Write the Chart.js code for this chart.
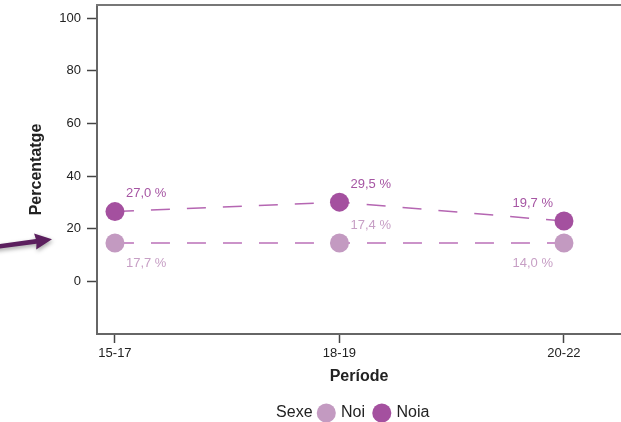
<!DOCTYPE html>
<html>
<head>
<meta charset="utf-8">
<script src="https://cdn.jsdelivr.net/npm/chart.js@4.4.1/dist/chart.umd.min.js"></script>
<style>
  html, body { margin: 0; padding: 0; background: #fff; }
  #wrap { width: 621px; height: 422px; }
</style>
</head>
<body>
<div id="wrap"><canvas id="chart"></canvas></div>
<script>
// dades
const periods = ["15-17", "18-19", "20-22"];
const yTicks = [0, 20, 40, 60, 80, 100];
const noiValues = [14.6, 14.6, 14.6];
const noiaValues = [26.5, 30.1, 22.9];
const noiLabels = ["17,7 %", "17,4 %", "14,0 %"];
const noiaLabels = ["27,0 %", "29,5 %", "19,7 %"];
const arrowValue = 16; // on apunta la fletxa

// on va cada etiqueta respecte al punt
const noiLabelPos = ["se", "ne", "sw"];
const noiaLabelPos = ["ne", "ne", "nw"];

const FONT = "'Liberation Sans', Arial, Helvetica, sans-serif";

// treu el farciment automàtic de les escales
function noPadding(axis) {
  axis.paddingTop = 0;
  axis.paddingBottom = 0;
  axis.paddingLeft = 0;
  axis.paddingRight = 0;
}

const decor = {
  id: "decor",
  afterLayout(chart) {
    // llegenda una mica desplaçada, com a l'original
    const lg = chart.legend;
    lg.left += 64; lg.right += 64;
    lg.top += 9; lg.bottom += 9;
  },
  beforeDatasetsDraw(chart) {
    const { ctx, chartArea } = chart;
    ctx.save();
    ctx.strokeStyle = "#777";
    ctx.lineWidth = 2;
    ctx.beginPath();
    ctx.moveTo(chartArea.left - 1, chartArea.top);
    ctx.lineTo(chartArea.right, chartArea.top);
    ctx.stroke();
    ctx.restore();
  },
  afterDatasetsDraw(chart) {
    const ctx = chart.ctx;
    ctx.save();
    ctx.font = "13px " + FONT;
    ctx.textBaseline = "middle";
    chart.data.datasets.forEach((ds, di) => {
      const meta = chart.getDatasetMeta(di);
      meta.data.forEach((pt, i) => {
        const pos = ds.labelPos[i];
        const dy = pos[0] === "n" ? -18 : 20;
        let x = pt.x;
        if (pos[1] === "e") { ctx.textAlign = "left"; x += 11; }
        else { ctx.textAlign = "right"; x -= 11; }
        ctx.fillStyle = ds.labelColor;
        ctx.fillText(ds.labels[i], x, pt.y + dy);
      });
    });
    ctx.restore();
  },
  afterDraw(chart) {
    const ctx = chart.ctx;
    // "Sexe" davant de la llegenda
    const hb = chart.legend.legendHitBoxes[0];
    if (hb) {
      ctx.save();
      ctx.font = "16px " + FONT;
      ctx.fillStyle = "#222";
      ctx.textAlign = "right";
      ctx.textBaseline = "middle";
      ctx.fillText("Sexe", hb.left - 7, hb.top + hb.height / 2);
      ctx.restore();
    }
    // fletxa de l'esquerra
    const tipY = chart.scales.y.getPixelForValue(arrowValue);
    const tipX = 52;
    ctx.save();
    ctx.translate(tipX, tipY);
    ctx.rotate(Math.atan2(7, -52));
    ctx.shadowColor = "rgba(0,0,0,0.35)";
    ctx.shadowBlur = 4;
    ctx.shadowOffsetX = 1;
    ctx.shadowOffsetY = 2;
    ctx.fillStyle = "#5b1f5e";
    ctx.beginPath();
    ctx.moveTo(0, 0);
    ctx.lineTo(17, -8);
    ctx.lineTo(16, -2.3);
    ctx.lineTo(60, -2.3);
    ctx.lineTo(60, 2.3);
    ctx.lineTo(16, 2.3);
    ctx.lineTo(17, 8);
    ctx.closePath();
    ctx.fill();
    ctx.restore();
  }
};

const ctx = document.getElementById("chart").getContext("2d");

new Chart(ctx, {
  type: "line",
  data: {
    datasets: [
      {
        label: "Noi",
        data: noiValues.map((v, i) => ({ x: i, y: v })),
        labels: noiLabels,
        labelPos: noiLabelPos,
        labelColor: "#c79fc5",
        borderColor: "#bb70b8",
        borderWidth: 1.5,
        borderDash: [19, 17],
        pointBackgroundColor: "#c39ac1",
        pointBorderColor: "#c39ac1",
        pointBorderWidth: 0,
        pointRadius: 9.5,
        fill: false,
      },
      {
        label: "Noia",
        data: noiaValues.map((v, i) => ({ x: i, y: v })),
        labels: noiaLabels,
        labelPos: noiaLabelPos,
        labelColor: "#a655a3",
        borderColor: "#b566b2",
        borderWidth: 1.5,
        borderDash: [19, 17],
        pointBackgroundColor: "#a4509f",
        pointBorderColor: "#a4509f",
        pointBorderWidth: 0,
        pointRadius: 9.5,
        fill: false,
      },
    ],
  },
  options: {
    responsive: true,
    maintainAspectRatio: false,
    animation: false,
    layout: { autoPadding: false, padding: { top: 5, left: 0, right: 0, bottom: 0 } },
    plugins: {
      legend: {
        position: "bottom",
        labels: {
          usePointStyle: true,
          boxWidth: 13.5,
          boxHeight: 13.5,
          padding: 10,
          color: "#222",
          font: { family: FONT, size: 16 },
        },
      },
      tooltip: { enabled: false },
    },
    scales: {
      x: {
        type: "linear",
        min: -0.08,
        max: 2.254,
        afterBuildTicks: (axis) => {
          axis.ticks = periods.map((p, i) => ({ value: i }));
        },
        afterFit: (axis) => { axis.height = 52; noPadding(axis); },
        ticks: {
          callback: (v) => periods[v],
          color: "#222",
          padding: 3,
          maxRotation: 0,
          font: { family: FONT, size: 13 },
        },
        grid: {
          drawOnChartArea: false,
          drawTicks: true,
          tickLength: 9,
          tickColor: "#444",
          tickWidth: 1.5,
        },
        border: { display: true, color: "#666", width: 2 },
        title: {
          display: true,
          text: "Període",
          color: "#222",
          font: { family: FONT, size: 16, weight: "bold" },
          padding: { top: 0, bottom: 0 },
        },
      },
      y: {
        min: -20,
        max: 105,
        afterBuildTicks: (axis) => {
          axis.ticks = yTicks.map((v) => ({ value: v }));
        },
        afterFit: (axis) => { axis.width = 97; noPadding(axis); },
        ticks: {
          color: "#222",
          padding: 6,
          font: { family: FONT, size: 13 },
        },
        grid: {
          drawOnChartArea: false,
          drawTicks: true,
          tickLength: 10,
          tickColor: "#444",
          tickWidth: 1.5,
        },
        border: { display: true, color: "#666", width: 2 },
        title: {
          display: true,
          text: "Percentatge",
          color: "#222",
          font: { family: FONT, size: 16, weight: "bold" },
          padding: { top: 27, bottom: 0 },
        },
      },
    },
  },
  plugins: [decor],
});
</script>
</body>
</html>
